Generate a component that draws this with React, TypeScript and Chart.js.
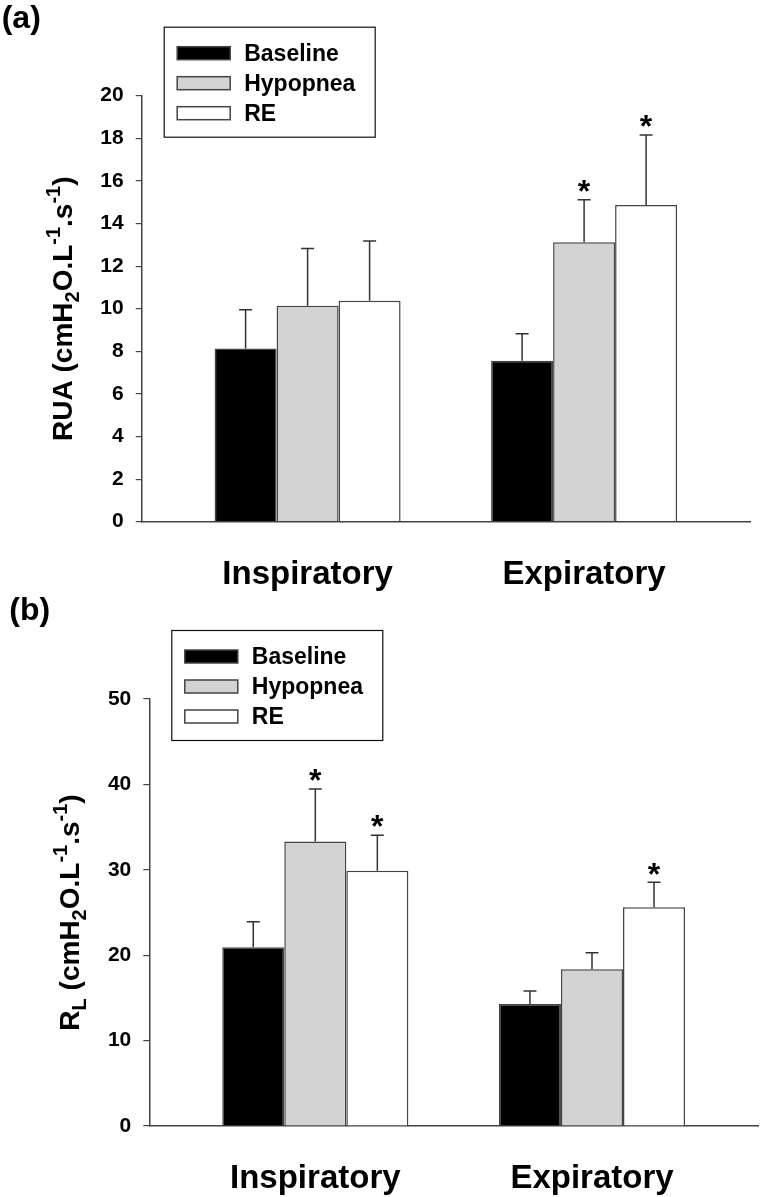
import React, { useEffect, useRef } from 'react';
import { Chart, registerables } from 'chart.js';

Chart.register(...registerables);

const FONT = '"Liberation Sans", Arial, Helvetica, sans-serif';
Chart.defaults.font.family = FONT;
Chart.defaults.color = '#000';

// ---------- shared ----------
const categories = ['Inspiratory', 'Expiratory'];
const seriesNames = ['Baseline', 'Hypopnea', 'RE'];
const seriesFill = ['#000000', '#d3d3d3', '#ffffff'];

// ---------- panel (a): R_UA ----------
const ruaBaseline = [8.13, 7.56];
const ruaHypopnea = [10.14, 13.12];
const ruaRE = [10.37, 14.87];
const ruaBaselineErr = [1.82, 1.26];
const ruaHypopneaErr = [2.69, 1.99];
const ruaREErr = [2.81, 3.28];
const ruaBaselineSig = [false, false];
const ruaHypopneaSig = [false, true];
const ruaRESig = [false, true];
const ruaYMax = 20;
const ruaYStep = 2;

// ---------- panel (b): R_L ----------
const rlBaseline = [20.92, 14.29];
const rlHypopnea = [33.3, 18.35];
const rlRE = [29.9, 25.61];
const rlBaselineErr = [3.0, 1.52];
const rlHypopneaErr = [6.15, 1.94];
const rlREErr = [4.15, 2.93];
const rlBaselineSig = [false, false];
const rlHypopneaSig = [true, false];
const rlRESig = [true, true];
const rlYMax = 50;
const rlYStep = 10;

type Seg = { t: string; k: 'n' | 'sub' | 'sup' };

const ruaTitle: Seg[] = [
  { t: 'RUA (cmH', k: 'n' },
  { t: '2', k: 'sub' },
  { t: 'O.L', k: 'n' },
  { t: '-1', k: 'sup' },
  { t: '.s', k: 'n' },
  { t: '-1', k: 'sup' },
  { t: ')', k: 'n' },
];
const rlTitle: Seg[] = [
  { t: 'R', k: 'n' },
  { t: 'L', k: 'sub' },
  { t: ' (cmH', k: 'n' },
  { t: '2', k: 'sub' },
  { t: 'O.L', k: 'n' },
  { t: '-1', k: 'sup' },
  { t: '.s', k: 'n' },
  { t: '-1', k: 'sup' },
  { t: ')', k: 'n' },
];

interface Layout {
  top: number;
  height: number;
  axisLeft: number;
  axisRight: number;
  areaTop: number;
  areaBottom: number;
  labelY: number;
}

interface PanelProps {
  panelLabel: string;
  values: number[][];
  errs: number[][];
  sigs: boolean[][];
  yMax: number;
  yStep: number;
  title: Seg[];
  layout: Layout;
}

function Panel({ panelLabel, values, errs, sigs, yMax, yStep, title, layout }: PanelProps) {
  const ref = useRef<HTMLCanvasElement | null>(null);

  useEffect(() => {
    if (!ref.current) return;
    const W = 760;
    const H = layout.height;

    const overlay = {
      id: 'overlay',
      afterDatasetsDraw(chart: any) {
        const ctx = chart.ctx as CanvasRenderingContext2D;
        const yScale = chart.scales.y;
        ctx.save();
        chart.data.datasets.forEach((ds: any, di: number) => {
          const meta = chart.getDatasetMeta(di);
          meta.data.forEach((bar: any, i: number) => {
            const mean = values[di][i];
            const topPx = yScale.getPixelForValue(mean + errs[di][i]);
            ctx.strokeStyle = '#333';
            ctx.lineWidth = 1.5;
            ctx.beginPath();
            ctx.moveTo(bar.x, bar.y);
            ctx.lineTo(bar.x, topPx);
            ctx.moveTo(bar.x - 6.5, topPx);
            ctx.lineTo(bar.x + 6.5, topPx);
            ctx.stroke();
            if (sigs[di][i]) {
              const fs = 32;
              ctx.fillStyle = '#000';
              ctx.font = `bold ${fs}px ${FONT}`;
              ctx.textAlign = 'center';
              ctx.textBaseline = 'alphabetic';
              const cy = topPx - 16;
              ctx.fillText('*', bar.x, cy + 0.57 * fs);
            }
          });
        });
        ctx.restore();
      },
      afterDraw(chart: any) {
        const ctx = chart.ctx as CanvasRenderingContext2D;
        const ca = chart.chartArea;
        ctx.save();

        // legend box
        const lx = ca.left + 22.5;
        const ly = ca.top - 68.5;
        const lw = 211;
        const lh = 110;
        ctx.strokeStyle = '#111';
        ctx.lineWidth = 1.2;
        ctx.strokeRect(lx, ly, lw, lh);
        seriesNames.forEach((name, j) => {
          const cy = ly + 26 + j * 30;
          ctx.fillStyle = seriesFill[j];
          ctx.fillRect(lx + 13, cy - 6.5, 53, 13);
          ctx.strokeStyle = '#444';
          ctx.lineWidth = 1.5;
          ctx.strokeRect(lx + 13, cy - 6.5, 53, 13);
          ctx.fillStyle = '#000';
          ctx.font = `bold 23px ${FONT}`;
          ctx.textAlign = 'left';
          ctx.textBaseline = 'middle';
          ctx.fillText(name, lx + 80, cy + 1);
        });

        // panel label
        ctx.fillStyle = '#000';
        ctx.font = `bold 32px ${FONT}`;
        ctx.textAlign = 'left';
        ctx.textBaseline = 'alphabetic';
        ctx.fillText(panelLabel, ca.left - 140, layout.labelY);

        // y-axis title with sub/superscripts
        const fsMain = 28;
        const fsSmall = 20;
        const fontOf = (k: string) => `bold ${k === 'n' ? fsMain : fsSmall}px ${FONT}`;
        let total = 0;
        title.forEach((s) => {
          ctx.font = fontOf(s.k);
          total += ctx.measureText(s.t).width;
        });
        ctx.translate(ca.left - 70, (ca.top + ca.bottom) / 2);
        ctx.rotate(-Math.PI / 2);
        let x = -total / 2;
        title.forEach((s) => {
          ctx.font = fontOf(s.k);
          const dy = s.k === 'sub' ? 7 : s.k === 'sup' ? -12 : 0;
          ctx.fillText(s.t, x, dy);
          x += ctx.measureText(s.t).width;
        });
        ctx.restore();
      },
    };

    const chart = new Chart(ref.current, {
      type: 'bar',
      data: {
        datasets: seriesNames.map((name, di) => ({
          label: name,
          data: values[di].map((v, i) => ({ x: i, y: v })),
          backgroundColor: seriesFill[di],
          borderColor: '#444',
          borderWidth: 1.5,
          categoryPercentage: 0.6727,
          barPercentage: 1,
        })),
      },
      options: {
        animation: false,
        responsive: false,
        maintainAspectRatio: false,
        layout: {
          padding: {
            left: 0,
            right: W - layout.axisRight,
            top: layout.areaTop,
            bottom: 0,
          },
        },
        plugins: {
          legend: { display: false },
          tooltip: { enabled: false },
          title: { display: false },
        },
        scales: {
          x: {
            type: 'linear',
            min: -0.6,
            max: 1.6,
            offset: false,
            afterBuildTicks: (scale: any) => {
              scale.ticks = categories.map((_, i) => ({ value: i }));
            },
            afterFit: (scale: any) => {
              scale.height = H - layout.areaBottom;
            },
            grid: { display: true, drawOnChartArea: false, drawTicks: false },
            border: { display: true, color: '#444', width: 1.5 },
            ticks: {
              autoSkip: false,
              maxRotation: 0,
              padding: 33,
              font: { size: 33, weight: 'bold', family: FONT },
              color: '#000',
              callback: (value: any) => categories[Number(value)] ?? '',
            },
          },
          y: {
            type: 'linear',
            min: 0,
            max: yMax,
            afterFit: (scale: any) => {
              scale.width = layout.axisLeft;
            },
            grid: {
              display: true,
              drawOnChartArea: false,
              drawTicks: true,
              tickLength: 6,
              color: '#444',
              lineWidth: 1.2,
            },
            border: { display: true, color: '#444', width: 1.5 },
            ticks: {
              stepSize: yStep,
              padding: 12,
              font: { size: 21, weight: 'bold', family: FONT },
              color: '#000',
            },
          },
        },
      },
      plugins: [overlay],
    } as any);

    return () => chart.destroy();
  }, []);

  return (
    <canvas
      ref={ref}
      width={760}
      height={layout.height}
      style={{ position: 'absolute', left: 0, top: layout.top, width: 760, height: layout.height }}
    />
  );
}

const layoutA: Layout = {
  top: 0,
  height: 600,
  axisLeft: 141.7,
  axisRight: 750,
  areaTop: 95.7,
  areaBottom: 521.7,
  labelY: 28,
};

const layoutB: Layout = {
  top: 590,
  height: 607,
  axisLeft: 149.3,
  axisRight: 758,
  areaTop: 109,
  areaBottom: 536,
  labelY: 30,
};

export default function App() {
  return (
    <div style={{ position: 'absolute', left: 0, top: 0, width: 760, height: 1197, background: '#fff' }}>
      <Panel
        panelLabel="(a)"
        values={[ruaBaseline, ruaHypopnea, ruaRE]}
        errs={[ruaBaselineErr, ruaHypopneaErr, ruaREErr]}
        sigs={[ruaBaselineSig, ruaHypopneaSig, ruaRESig]}
        yMax={ruaYMax}
        yStep={ruaYStep}
        title={ruaTitle}
        layout={layoutA}
      />
      <Panel
        panelLabel="(b)"
        values={[rlBaseline, rlHypopnea, rlRE]}
        errs={[rlBaselineErr, rlHypopneaErr, rlREErr]}
        sigs={[rlBaselineSig, rlHypopneaSig, rlRESig]}
        yMax={rlYMax}
        yStep={rlYStep}
        title={rlTitle}
        layout={layoutB}
      />
    </div>
  );
}
